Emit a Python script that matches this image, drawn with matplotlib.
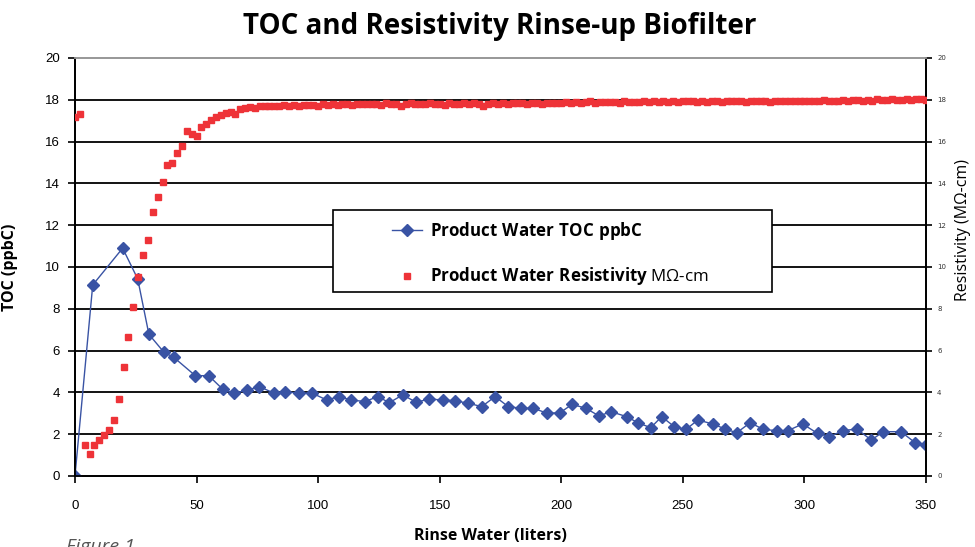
import numpy as np
import matplotlib
matplotlib.use("Agg")
from matplotlib import pyplot as plt
from matplotlib.patches import Rectangle

plt.rcParams["mathtext.fontset"] = "custom"
plt.rcParams["mathtext.bf"] = "Open Sans:bold"
plt.rcParams["mathtext.rm"] = "Open Sans"

# Product water TOC (ppbC) vs rinse water (liters)
toc_x = [0, 7.3, 19.6, 25.8, 30.4, 36.6, 40.6, 49.5, 55.0, 60.7,
         65.3, 70.6, 75.8, 81.9, 86.4, 92.3, 97.6, 103.5, 108.7, 113.5,
         119.3, 124.5, 129.3, 134.8, 140.3, 145.7, 151.2, 156.3, 161.8, 167.3,
         172.8, 178.2, 183.5, 188.5, 194.3, 199.5, 204.5, 210.1, 215.6, 220.4,
         226.9, 231.5, 236.8, 241.3, 246.5, 251.3, 256.2, 262.3, 267.4, 272.2,
         277.7, 283.1, 288.6, 293.2, 299.3, 305.4, 310.3, 315.8, 321.6, 327.5,
         332.5, 339.7, 345.6, 350.0]
toc_y = [0, 9.14, 10.9, 9.43, 6.78, 5.92, 5.68, 4.80, 4.80, 4.16,
         3.96, 4.10, 4.28, 3.96, 4.03, 3.96, 3.96, 3.64, 3.80, 3.64,
         3.56, 3.80, 3.51, 3.88, 3.53, 3.68, 3.64, 3.60, 3.48, 3.32,
         3.80, 3.32, 3.24, 3.24, 3.00, 3.03, 3.43, 3.24, 2.87, 3.08,
         2.84, 2.55, 2.31, 2.84, 2.36, 2.23, 2.68, 2.49, 2.25, 2.07,
         2.55, 2.23, 2.17, 2.17, 2.49, 2.04, 1.88, 2.17, 2.25, 1.72,
         2.12, 2.12, 1.59, 1.48]

# Product water resistivity (MOhm-cm), sampled every 2 liters from 0 to 350
RES_STEP = 2
res_y = [17.19, 17.30, 1.48, 1.04, 1.48, 1.74, 1.98, 2.20, 2.68, 3.70,
         5.23, 6.67, 8.10, 9.52, 10.59, 11.31, 12.65, 13.33, 14.08, 14.88,
         14.96, 15.47, 15.80, 16.50, 16.35, 16.25, 16.71, 16.84, 17.03, 17.19,
         17.27, 17.35, 17.43, 17.30, 17.54, 17.59, 17.64, 17.62, 17.68, 17.70,
         17.70, 17.72, 17.70, 17.74, 17.72, 17.76, 17.70, 17.75, 17.74, 17.77,
         17.72, 17.78, 17.75, 17.80, 17.76, 17.78, 17.82, 17.75, 17.80, 17.78,
         17.82, 17.78, 17.80, 17.76, 17.83, 17.79, 17.82, 17.70, 17.80, 17.83,
         17.78, 17.82, 17.80, 17.84, 17.79, 17.82, 17.76, 17.84, 17.80, 17.82,
         17.83, 17.80, 17.84, 17.82, 17.68, 17.80, 17.84, 17.82, 17.85, 17.81,
         17.84, 17.83, 17.85, 17.82, 17.86, 17.84, 17.82, 17.86, 17.83, 17.85,
         17.84, 17.88, 17.85, 17.90, 17.86, 17.88, 17.92, 17.86, 17.90, 17.88,
         17.91, 17.88, 17.86, 17.92, 17.89, 17.91, 17.88, 17.93, 17.90, 17.92,
         17.90, 17.94, 17.91, 17.93, 17.89, 17.95, 17.92, 17.94, 17.90, 17.93,
         17.91, 17.95, 17.93, 17.90, 17.94, 17.92, 17.95, 17.93, 17.91, 17.94,
         17.92, 17.95, 17.93, 17.90, 17.94, 17.92, 17.95, 17.93, 17.96, 17.92,
         17.94, 17.96, 17.93, 17.95, 17.97, 17.92, 17.96, 17.94, 17.98, 17.95,
         17.97, 17.99, 17.95, 18.00, 17.96, 18.02, 17.97, 18.00, 18.03, 17.98,
         18.01, 18.03, 17.99, 18.02, 18.04, 18.00]
res_x = np.arange(len(res_y)) * RES_STEP

x_ticks = [0, 50, 100, 150, 200, 250, 300, 350]
y_ticks = list(range(0, 21, 2))

BLUE = "#3953a4"
RED = "#ee3338"

fig = plt.figure(figsize=(9.75, 5.47), dpi=100)
ax = fig.add_axes([0.0769, 0.1298, 0.8728, 0.7642])
ax2 = ax.twinx()

for y in y_ticks[1:-1]:
    ax.axhline(y, color="black", lw=1.3, zorder=0)

ax.plot(toc_x, toc_y, color=BLUE, lw=1, marker="D", ms=6.5,
        label=r"$\mathbf{Product\ Water\ TOC\ ppbC}$", zorder=3)
ax2.plot(res_x, res_y, ls="none", marker="s", ms=5, color=RED, mec=RED,
         label=r"$\mathbf{Product\ Water\ Resistivity}$ MΩ-cm", zorder=3)

for a in (ax, ax2):
    a.set_xlim(0, 350)
    a.set_ylim(0, 20)
    a.set_yticks(y_ticks)
    a.spines["top"].set_color("#999999")
    a.spines["top"].set_linewidth(1.3)
    for s in ("left", "right", "bottom"):
        a.spines[s].set_linewidth(1.3)
    a.patch.set_visible(False)

ax.set_xticks(x_ticks)
ax.tick_params(axis="both", direction="out", length=5, width=1.2,
               labelsize=9.5, pad=6)
for lab in ax.get_xticklabels() + ax.get_yticklabels():
    lab.set_fontfamily("Liberation Sans")
ax.tick_params(axis="x", pad=12)
ax2.tick_params(axis="y", direction="out", length=4, width=1.2,
                labelsize=5, pad=4, labelcolor="#333333")

ax.set_xlabel("Rinse Water (liters)", fontfamily="Open Sans",
              fontweight="bold", fontsize=11.5, va="center")
ax.xaxis.set_label_coords(0.4877, -0.1435)
ax.set_ylabel("TOC (ppbC)", fontfamily="Open Sans", fontweight="bold",
              fontsize=11.5)
ax.yaxis.set_label_coords(-0.067, 0.5)
fig.text(0.9877, 1 - 230 / 547, "Resistivity (MΩ-cm)", rotation=90,
         ha="center", va="center", fontfamily="Open Sans", fontsize=11.5)

fig.suptitle("TOC and Resistivity Rinse-up Biofilter", x=0.513, y=0.978,
             fontfamily="Open Sans", fontweight="bold", fontsize=20)
fig.text(0.068, 0.017, "Figure 1", va="top", fontstyle="italic",
         fontfamily="Open Sans", fontsize=14, color="#555555")

# legend box
ax2.add_patch(Rectangle((0.303, 0.44), 0.516, 0.196, transform=ax2.transAxes,
                        facecolor="white", edgecolor="black", lw=1.2,
                        zorder=5))
h1, l1 = ax.get_legend_handles_labels()
h2, l2 = ax2.get_legend_handles_labels()
leg = ax2.legend(h1 + h2, l1 + l2, loc="center left",
                 bbox_to_anchor=(0.3625, 0.532), frameon=False,
                 prop={"family": "Open Sans", "size": 12.2},
                 borderpad=0, handlelength=1.8, handletextpad=0.45,
                 labelspacing=1.4)
leg.set_zorder(6)

fig.savefig("out.png", dpi=100)
